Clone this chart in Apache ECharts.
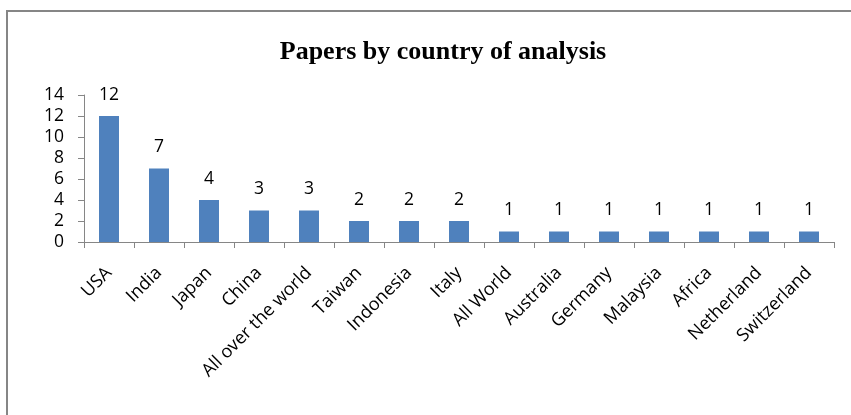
<!DOCTYPE html>
<html><head><meta charset="utf-8">
<script src="https://cdn.jsdelivr.net/npm/echarts@6/dist/echarts.min.js"></script>
<style>html,body{margin:0;padding:0;background:#fff}#c{width:851px;height:415px}</style>
</head><body><div id="c"></div>
<script>
const categories = ["USA","India","Japan","China","All over the world","Taiwan","Indonesia","Italy","All World","Australia","Germany","Malaysia","Africa","Netherland","Switzerland"];
const values = [12,7,4,3,3,2,2,2,1,1,1,1,1,1,1];
const yTicks = [0,2,4,6,8,10,12,14];

const chart = echarts.init(document.getElementById('c'), null, {renderer:'canvas'});
chart.setOption({
  animation:false,
  backgroundColor:'#fff',
  graphic:[{type:'rect',shape:{x:7,y:11,width:860,height:420},style:{fill:'none',stroke:'#868686',lineWidth:2},silent:true}],
  title:{text:'Papers by country of analysis',left:438,textAlign:'center',top:34,textStyle:{fontFamily:'Liberation Serif',fontWeight:'bold',fontSize:26,color:'#000'}},
  grid:{left:84,right:17,top:95,bottom:173,containLabel:false},
  xAxis:{type:'category',data:categories,boundaryGap:true,
    axisLine:{lineStyle:{color:'#868686',width:1}},
    axisTick:{show:true,alignWithLabel:false,length:6,lineStyle:{color:'#868686'}},
    axisLabel:{interval:0,rotate:45,margin:28,fontFamily:'Open Sans',fontSize:18,color:'#000'}},
  yAxis:{type:'value',min:yTicks[0],max:yTicks[yTicks.length-1],interval:2,
    axisLine:{show:true,lineStyle:{color:'#868686',width:1}},
    axisTick:{show:true,inside:false,length:6,lineStyle:{color:'#868686'}},
    splitLine:{show:false},
    axisLabel:{margin:20,fontFamily:'Open Sans',fontSize:17.5,color:'#000'}},
  series:[{type:'bar',data:values,barWidth:20,itemStyle:{color:'#4f81bd'},
    label:{show:true,position:'top',distance:12,fontFamily:'Open Sans',fontSize:17.5,color:'#000'}}]
});
</script></body></html>
